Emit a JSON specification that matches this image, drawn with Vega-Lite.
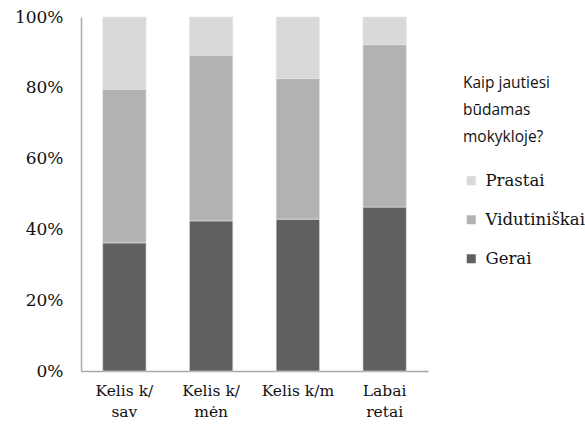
{
  "$schema": "https://vega.github.io/schema/vega-lite/v6.json",
  "width": 347,
  "height": 354,
  "autosize": "none",
  "padding": {"left": 81, "top": 17, "right": 157, "bottom": 59},
  "background": "white",
  "config": {"view": {"stroke": null}},
  "data": {
    "values": [
      {"kategorija": "Kelis k/ sav", "atsakymas": "Gerai", "rank": 1, "reiksme": 36.2},
      {"kategorija": "Kelis k/ sav", "atsakymas": "Vidutiniškai", "rank": 2, "reiksme": 43.4},
      {"kategorija": "Kelis k/ sav", "atsakymas": "Prastai", "rank": 3, "reiksme": 20.4},
      {"kategorija": "Kelis k/ mėn", "atsakymas": "Gerai", "rank": 1, "reiksme": 42.4},
      {"kategorija": "Kelis k/ mėn", "atsakymas": "Vidutiniškai", "rank": 2, "reiksme": 46.8},
      {"kategorija": "Kelis k/ mėn", "atsakymas": "Prastai", "rank": 3, "reiksme": 10.8},
      {"kategorija": "Kelis k/m", "atsakymas": "Gerai", "rank": 1, "reiksme": 42.9},
      {"kategorija": "Kelis k/m", "atsakymas": "Vidutiniškai", "rank": 2, "reiksme": 39.7},
      {"kategorija": "Kelis k/m", "atsakymas": "Prastai", "rank": 3, "reiksme": 17.4},
      {"kategorija": "Labai retai", "atsakymas": "Gerai", "rank": 1, "reiksme": 46.3},
      {"kategorija": "Labai retai", "atsakymas": "Vidutiniškai", "rank": 2, "reiksme": 45.9},
      {"kategorija": "Labai retai", "atsakymas": "Prastai", "rank": 3, "reiksme": 7.8}
    ]
  },
  "mark": {"type": "bar", "stroke": "#e6e6e6", "strokeWidth": 0.8, "strokeOpacity": 0.7},
  "encoding": {
    "x": {
      "field": "kategorija",
      "type": "nominal",
      "sort": null,
      "scale": {"paddingInner": 0.5, "paddingOuter": 0.25},
      "axis": {
        "title": null,
        "labelAngle": 0,
        "labelExpr": "datum.label == 'Kelis k/ sav' ? ['Kelis k/', 'sav'] : datum.label == 'Kelis k/ mėn' ? ['Kelis k/', 'mėn'] : datum.label == 'Labai retai' ? ['Labai', 'retai'] : datum.label",
        "labelFont": "DejaVu Serif",
        "labelFontSize": 15.5,
        "labelColor": "#111111",
        "labelLineHeight": 21,
        "labelPadding": 12,
        "ticks": false,
        "domainColor": "#a9a9a9",
        "domainWidth": 1.5
      }
    },
    "y": {
      "field": "reiksme",
      "type": "quantitative",
      "stack": "normalize",
      "scale": {"domain": [0, 1]},
      "axis": {
        "title": null,
        "format": ".0%",
        "values": [0, 0.2, 0.4, 0.6, 0.8, 1],
        "grid": false,
        "ticks": false,
        "labelFont": "DejaVu Serif",
        "labelFontSize": 17,
        "labelColor": "#111111",
        "labelPadding": 18,
        "domainColor": "#a9a9a9",
        "domainWidth": 1.5
      }
    },
    "color": {
      "field": "atsakymas",
      "type": "nominal",
      "scale": {
        "domain": ["Prastai", "Vidutiniškai", "Gerai"],
        "range": ["#d9d9d9", "#b2b2b2", "#606060"]
      },
      "legend": {
        "title": ["Kaip jautiesi", "būdamas", "mokykloje?"],
        "titleFont": "Open Sans",
        "titleFontSize": 15.5,
        "titleFontWeight": "normal",
        "titleColor": "#111111",
        "titleLineHeight": 27,
        "titlePadding": 27,
        "labelFont": "DejaVu Serif",
        "labelFontSize": 16.5,
        "labelColor": "#111111",
        "labelOffset": 6,
        "symbolType": "square",
        "symbolSize": 81,
        "symbolStrokeWidth": 0,
        "rowPadding": 22,
        "orient": "none",
        "legendX": 382,
        "legendY": 59
      }
    },
    "order": {"field": "rank", "type": "quantitative"}
  }
}
